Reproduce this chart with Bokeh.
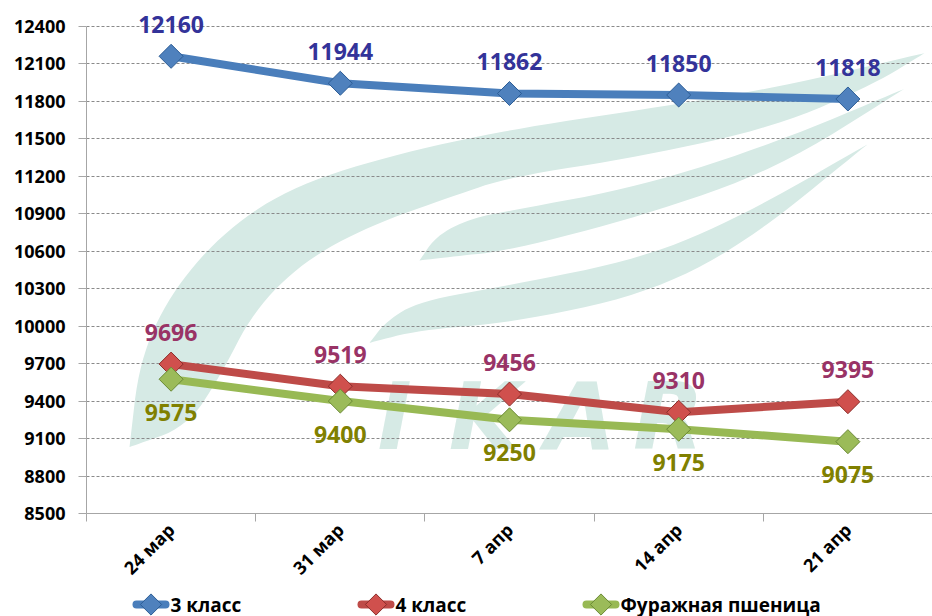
import math
from bokeh.plotting import figure
from bokeh.layouts import column
from bokeh.models import (ColumnDataSource, FixedTicker, LabelSet, Range1d)
from bokeh.core.properties import value
from bokeh.embed import file_html
from bokeh.resources import INLINE

# ---------------- data ----------------
dates = ["24 мар", "31 мар", "7 апр", "14 апр", "21 апр"]
class3 = [12160, 11944, 11862, 11850, 11818]
class4 = [9696, 9519, 9456, 9310, 9395]
feed = [9575, 9400, 9250, 9175, 9075]
series_names = ["3 класс", "4 класс", "Фуражная пшеница"]
y_ticks = list(range(8500, 12401, 300))

FONT = "Open Sans"
WM = "#d6eae5"

xs = [i + 0.5 for i in range(len(dates))]

# 26 px of head-room above the 12400 line (491 px for 3900)
Y_TOP = 12400 + 26 * 3900 / 491

p = figure(width=932, height=590,
           x_range=Range1d(0, len(dates)), y_range=Range1d(8500, Y_TOP),
           output_backend="svg", toolbar_location=None,
           min_border_left=86, min_border_right=0,
           min_border_top=0, min_border_bottom=74)
p.outline_line_color = None
p.background_fill_color = "white"

# ---------------- watermark (decoration) ----------------
def to_data(pt):
    px, py = pt
    return ((px - 86) / 846 * 5, 12400 - (py - 26) / 491 * 3900)

def chaikin(pts, n=3):
    for _ in range(n):
        out = [pts[0]]
        for a, b in zip(pts[:-1], pts[1:]):
            out.append((0.75 * a[0] + 0.25 * b[0], 0.75 * a[1] + 0.25 * b[1]))
            out.append((0.25 * a[0] + 0.75 * b[0], 0.25 * a[1] + 0.75 * b[1]))
        out.append(pts[-1])
        pts = out
    return pts

shapes = [
    ([(129, 450), (139, 363), (169, 297), (219, 237), (286, 190), (386, 157),
      (509, 130), (642, 110), (776, 88), (924, 53)],
     [(924, 53), (876, 83), (776, 127), (642, 157), (509, 178), (453, 197),
      (369, 227), (303, 263), (253, 313), (219, 380), (186, 430), (129, 450)]),
    ([(419, 262), (436, 237), (469, 220), (509, 212), (642, 187), (776, 143), (904, 89)],
     [(904, 89), (776, 170), (642, 217), (509, 252), (453, 258), (419, 262)]),
    ([(369, 345), (386, 323), (419, 303), (509, 287), (642, 260), (742, 217), (867, 145)],
     [(867, 145), (742, 247), (642, 297), (509, 325), (419, 332), (369, 345)]),
]
for outer, inner in shapes:
    pts = chaikin(outer) + chaikin(inner)[1:]
    d = [to_data(q) for q in pts]
    p.patch([q[0] for q in d], [q[1] for q in d], fill_color=WM,
            line_color=None, level="image")

wm_letters = ["I", "K", "A", "R"]
wm_pos = [to_data((x, 420)) for x in (394, 484, 580, 668)]
p.text(x=[q[0] for q in wm_pos], y=[q[1] for q in wm_pos], text=wm_letters,
       text_font=value("DejaVu Sans"), text_font_style="bold italic",
       text_font_size="92px", text_color=WM, text_align="center",
       text_baseline="alphabetic", level="image")

# ---------------- axes & grid ----------------
AX = "#a6a6a6"
p.yaxis.ticker = FixedTicker(ticks=y_ticks)
p.yaxis.bounds = (8500, 12400)
p.yaxis.major_label_text_font = FONT
p.yaxis.major_label_text_font_size = "18px"
p.yaxis.major_label_text_font_style = "bold"
p.yaxis.major_label_text_color = "black"
p.yaxis.axis_line_color = AX
p.yaxis.major_tick_line_color = AX
p.yaxis.major_tick_out = 8
p.yaxis.major_tick_in = 0
p.yaxis.minor_tick_line_color = None
p.yaxis.major_label_standoff = 13

p.xaxis.ticker = FixedTicker(ticks=xs, minor_ticks=list(range(len(dates) + 1)))
p.xaxis.major_label_overrides = {x: d for x, d in zip(xs, dates)}
p.xaxis.major_label_orientation = math.pi / 4
p.xaxis.major_label_text_font = FONT
p.xaxis.major_label_text_font_size = "18px"
p.xaxis.major_label_text_font_style = "bold"
p.xaxis.major_label_text_color = "black"
p.xaxis.major_tick_line_color = None
p.xaxis.major_tick_out = 0
p.xaxis.minor_tick_line_color = AX
p.xaxis.minor_tick_out = 8
p.xaxis.minor_tick_in = 0
p.xaxis.axis_line_color = AX
p.xaxis.major_label_standoff = 5

p.xgrid.visible = False
p.ygrid.ticker = FixedTicker(ticks=y_ticks)
p.ygrid.grid_line_color = "#8a8a8a"
p.ygrid.grid_line_dash = "3 2"
p.ygrid.grid_line_width = 1

# ---------------- series ----------------
series = [class3, class4, feed]
line_colors = ["#4A7EBB", "#BE4B48", "#98B954"]
fill_colors = ["#4F81BD", "#D0504D", "#9BBB59"]
edge_colors = ["#2c5d96", "#8c2e2b", "#6b8a35"]
label_colors = ["#333399", "#993366", "#808000"]
label_offsets = [32, 32, -33]

for vals, lc, fc, ec, tc, off in zip(series, line_colors, fill_colors,
                                     edge_colors, label_colors, label_offsets):
    src = ColumnDataSource(dict(x=xs, y=vals, t=[str(v) for v in vals]))
    p.line("x", "y", source=src, line_width=8, line_color=lc,
           line_join="round", line_cap="round")
    p.scatter("x", "y", source=src, marker="square", angle=math.pi / 4,
              size=17, fill_color=fc, line_color=ec, line_width=1)
    p.add_layout(LabelSet(x="x", y="y", text="t", source=src, y_offset=off,
                          text_align="center", text_baseline="middle",
                          text_font=value(FONT), text_font_size="23px",
                          text_font_style="bold", text_color=tc))

# ---------------- legend strip (under the chart) ----------------
# its frame is aligned with the chart frame: x in page pixels 86..932
lg = figure(width=932, height=26, x_range=Range1d(86, 932),
            y_range=Range1d(0, 26), output_backend="svg",
            toolbar_location=None, min_border=0)
lg.axis.visible = False
lg.grid.visible = False
lg.outline_line_color = None

leg_start = [132, 357, 582]
GW = 37
for x0, name, lc, fc, ec in zip(leg_start, series_names, line_colors,
                                fill_colors, edge_colors):
    lg.line([x0 + 4, x0 + GW - 4], [12, 12], line_width=8, line_color=lc,
            line_cap="round")
    lg.scatter([x0 + GW / 2], [12], marker="square", angle=math.pi / 4,
               size=15, fill_color=fc, line_color=ec, line_width=1)
    lg.text([x0 + GW + 1], [12], text=[name], text_font=value(FONT),
            text_font_size="19px", text_font_style="bold", text_color="black",
            text_align="left", text_baseline="middle")

layout = column(p, lg, spacing=0)
open("out.html", "w").write(file_html(layout, INLINE))
